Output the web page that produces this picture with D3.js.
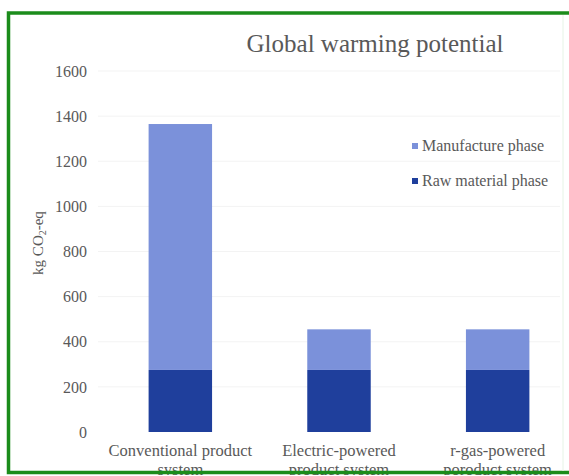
<!DOCTYPE html>
<html>
<head>
<meta charset="utf-8">
<script src="https://cdn.jsdelivr.net/npm/d3@7"></script>
<style>
  html, body { margin: 0; padding: 0; background: #fff; }
  svg { display: block; }
  text { font-family: "Liberation Serif", "DejaVu Serif", serif; fill: #595959; }
</style>
</head>
<body>
<script>
// Life-cycle global warming potential per product system (kg CO2-eq)
const categories = [
  ["Conventional product", "system"],
  ["Electric-powered", "product system"],
  ["r-gas-powered", "poroduct system"]
];
const rawMaterial = [275, 275, 275];
const manufacture = [1090, 180, 180];
const seriesNames = ["Manufacture phase", "Raw material phase"];
const yTicks = [0, 200, 400, 600, 800, 1000, 1200, 1400, 1600];

const W = 569, H = 476;
const colors = { raw: "#1f3f9c", manu: "#7b91da" };

const svg = d3.select("body").append("svg")
  .attr("width", W).attr("height", H);

const y = d3.scaleLinear().domain([0, 1600]).range([432, 71]);
const x = d3.scaleBand().domain(d3.range(categories.length))
  .range([101, 577]).paddingInner(0.6).paddingOuter(0.3);

// faint horizontal gridlines
svg.append("g").selectAll("line").data(yTicks.slice(1)).join("line")
  .attr("x1", 98).attr("x2", 560)
  .attr("y1", d => y(d)).attr("y2", d => y(d))
  .attr("stroke", "#f3f3f3").attr("stroke-width", 1);

// y axis labels
const yAxis = d3.axisLeft(y).tickValues(yTicks).tickSize(0).tickPadding(0)
  .tickFormat(d3.format("d"));
const gy = svg.append("g").attr("transform", "translate(87,0)").call(yAxis);
gy.select(".domain").remove();
gy.selectAll("text")
  .style("font-family", '"Liberation Serif", serif')
  .style("font-size", "16px").attr("fill", "#595959");

// y axis title
const yt = svg.append("text")
  .attr("transform", "translate(43,243) rotate(-90)")
  .attr("text-anchor", "middle")
  .style("font-size", "15px");
yt.append("tspan").text("kg CO");
yt.append("tspan").attr("font-size", "10px").attr("dy", 3).text("2");
yt.append("tspan").attr("dy", -3).text("-eq");

// stacked bars
const stackData = categories.map((c, i) => ({ i, raw: rawMaterial[i], manu: manufacture[i] }));
const stacked = d3.stack().keys(["raw", "manu"])(stackData);
svg.append("g").selectAll("g").data(stacked).join("g")
  .attr("fill", d => colors[d.key])
  .selectAll("rect").data(d => d).join("rect")
  .attr("x", d => x(d.data.i))
  .attr("width", x.bandwidth())
  .attr("y", d => y(d[1]))
  .attr("height", d => y(d[0]) - y(d[1]));

// category labels
const xl = svg.append("g").selectAll("text").data(categories).join("text")
  .attr("text-anchor", "middle")
  .attr("x", (d, i) => x(i) + x.bandwidth() / 2)
  .attr("y", 456)
  .style("font-size", "16.5px");
xl.selectAll("tspan").data(d => d).join("tspan")
  .attr("x", function () { return this.parentNode.getAttribute("x"); })
  .attr("dy", (d, j) => j === 0 ? 0 : 19)
  .text(d => d);

// title
svg.append("text")
  .attr("x", 375).attr("y", 52)
  .attr("text-anchor", "middle")
  .style("font-size", "25px")
  .text("Global warming potential");

// legend
const legend = svg.append("g").selectAll("g")
  .data([{ n: seriesNames[0], c: colors.manu }, { n: seriesNames[1], c: colors.raw }])
  .join("g")
  .attr("transform", (d, i) => `translate(412,${146 + i * 35})`);
legend.append("rect").attr("x", 0).attr("y", -3).attr("width", 6).attr("height", 6)
  .attr("fill", d => d.c);
legend.append("text").attr("x", 10).attr("y", 5)
  .style("font-size", "16px").text(d => d.n);

// frame
svg.append("path")
  .attr("d", `M575,13 H8.5 V472.5 H575`)
  .attr("fill", "none").attr("stroke", "#1b8c1b").attr("stroke-width", 3.5);
svg.append("rect").attr("x", 0).attr("y", 475).attr("width", W).attr("height", 1).attr("fill", "#fff");
svg.append("line").attr("x1", 563).attr("x2", 563).attr("y1", 15).attr("y2", 471)
  .attr("stroke", "#e6f3e6").attr("stroke-width", 1);
</script>
</body>
</html>
